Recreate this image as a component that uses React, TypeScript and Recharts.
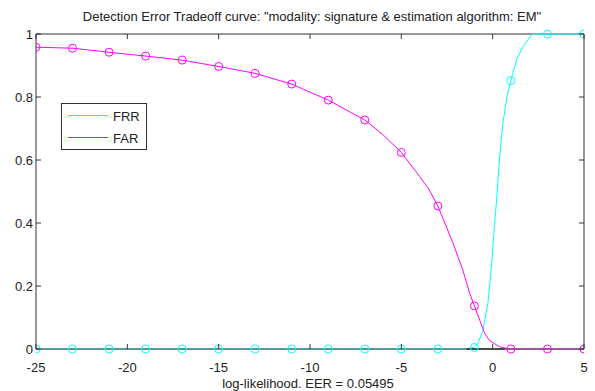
import { LineChart, Line, XAxis, YAxis, ReferenceLine } from 'recharts';

const W = 595;
const H = 391;
const PLOT_LEFT = 36;
const PLOT_RIGHT = 584;
const PLOT_TOP = 34;
const PLOT_BOTTOM = 349;
const FONT = '"Liberation Sans", Arial, sans-serif';
const AXIS_COLOR = '#333';
const FRR_COLOR = '#00ffff';
const FAR_COLOR = '#ff00ff';

const xTicks = [-25, -20, -15, -10, -5, 0, 5];
const yTicks = [0, 0.2, 0.4, 0.6, 0.8, 1];

// sampled curves (dense where they move fast)
const farX = [-25, -23, -21, -19, -17, -15, -13, -11, -9, -7, -6, -5, -4, -3.5, -3, -2.17, -1.63, -1.26, -1, -0.71, -0.44, -0.16, 0.38, 0.84, 1, 3, 5];
const farY = [0.958, 0.955, 0.942, 0.93, 0.917, 0.897, 0.875, 0.841, 0.79, 0.727, 0.68, 0.624, 0.548, 0.508, 0.454, 0.336, 0.25, 0.177, 0.137, 0.092, 0.05, 0.026, 0.007, 0, 0, 0, 0];

const frrX = [-25, -3, -1.44, -1, -0.8, -0.53, -0.26, -0.07, 0.11, 0.24, 0.38, 0.56, 0.78, 1, 1.3, 1.66, 2.12, 2.3, 3, 5];
const frrY = [0, 0, 0, 0.005, 0.018, 0.06, 0.145, 0.261, 0.4, 0.49, 0.61, 0.716, 0.8, 0.852, 0.917, 0.96, 0.997, 1, 1, 1];

// circle markers every 2 units
const markerX = [-25, -23, -21, -19, -17, -15, -13, -11, -9, -7, -5, -3, -1, 1, 3, 5];
const farMarks = [0.958, 0.955, 0.942, 0.93, 0.917, 0.897, 0.875, 0.841, 0.79, 0.727, 0.624, 0.454, 0.137, 0, 0, 0];
const frrMarks = [0, 0, 0, 0, 0, 0, 0, 0, 0, 0, 0, 0, 0.005, 0.852, 1, 1];

const eerX = [-1.44, 0.66];
const eerY = [0, 0];

const toPts = (xs: number[], ys: number[]) => xs.map((x, i) => ({ x, y: ys[i] }));

const farLine = toPts(farX, farY);
const frrLine = toPts(frrX, frrY);
const farDots = toPts(markerX, farMarks);
const frrDots = toPts(markerX, frrMarks);
const eerLine = toPts(eerX, eerY);

const XTick = (props: any) => {
  const { x, payload } = props;
  return (
    <g>
      <line x1={x} y1={PLOT_BOTTOM} x2={x} y2={PLOT_BOTTOM - 5} stroke={AXIS_COLOR} />
      <line x1={x} y1={PLOT_TOP} x2={x} y2={PLOT_TOP + 5} stroke={AXIS_COLOR} />
      <text x={x} y={PLOT_BOTTOM + 23} textAnchor="middle" fontSize={13} fontFamily={FONT} fill="#222">
        {payload.value}
      </text>
    </g>
  );
};

const YTick = (props: any) => {
  const { y, payload } = props;
  return (
    <g>
      <line x1={PLOT_LEFT} y1={y} x2={PLOT_LEFT + 5} y2={y} stroke={AXIS_COLOR} />
      <line x1={PLOT_RIGHT} y1={y} x2={PLOT_RIGHT - 5} y2={y} stroke={AXIS_COLOR} />
      <text x={PLOT_LEFT - 3} y={y + 5} textAnchor="end" fontSize={13} fontFamily={FONT} fill="#222">
        {payload.value}
      </text>
    </g>
  );
};

export default function App() {
  return (
    <div style={{ position: 'relative', width: W, height: H, background: '#fff' }}>
      <style>{'body{margin:0;background:#fff}'}</style>
      <LineChart
        width={W}
        height={H}
        margin={{ top: PLOT_TOP, right: W - PLOT_RIGHT, bottom: 0, left: 0 }}
      >
        <XAxis
          type="number"
          dataKey="x"
          domain={[-25, 5]}
          ticks={xTicks}
          height={H - PLOT_BOTTOM}
          tickSize={0}
          tickMargin={0}
          tickLine={false}
          axisLine={{ stroke: AXIS_COLOR }}
          tick={<XTick />}
          allowDataOverflow
        />
        <YAxis
          type="number"
          dataKey="y"
          domain={[0, 1]}
          ticks={yTicks}
          width={PLOT_LEFT}
          tickSize={0}
          tickMargin={0}
          tickLine={false}
          axisLine={{ stroke: AXIS_COLOR }}
          tick={<YTick />}
        />
        <ReferenceLine y={1} stroke={AXIS_COLOR} strokeOpacity={1} />
        <ReferenceLine x={5} stroke={AXIS_COLOR} strokeOpacity={1} />
        <Line data={frrLine} dataKey="y" name="FRR" type="linear" stroke={FRR_COLOR} strokeWidth={1} dot={false} isAnimationActive={false} />
        <Line data={farLine} dataKey="y" name="FAR" type="linear" stroke={FAR_COLOR} strokeWidth={1} dot={false} isAnimationActive={false} />
        <Line data={eerLine} dataKey="y" name="EER" type="linear" stroke="#333" strokeWidth={1.5} dot={false} isAnimationActive={false} />
        <Line data={frrDots} dataKey="y" name="FRR marks" stroke="none" dot={{ r: 4, stroke: FRR_COLOR, strokeWidth: 1, fill: 'none' }} isAnimationActive={false} />
        <Line data={farDots} dataKey="y" name="FAR marks" stroke="none" dot={{ r: 4, stroke: FAR_COLOR, strokeWidth: 1, fill: 'none' }} isAnimationActive={false} />
      </LineChart>
      <svg width={W} height={H} style={{ position: 'absolute', left: 0, top: 0, pointerEvents: 'none' }}>
        <text x={312} y={21} textAnchor="middle" fontSize={13} fontFamily={FONT} fill="#222">
          Detection Error Tradeoff curve: "modality: signature &amp; estimation algorithm: EM"
        </text>
        <text x={308} y={388} textAnchor="middle" fontSize={13} fontFamily={FONT} fill="#222">
          log-likelihood. EER = 0.05495
        </text>
        <g transform="translate(61,103)">
          <rect x={0.5} y={0.5} width={85} height={46} fill="#fff" stroke="#333" />
          <line x1={7} y1={12.5} x2={47} y2={12.5} stroke={FRR_COLOR} />
          <text x={52} y={18} fontSize={13} fontFamily={FONT} fill="#222">FRR</text>
          <line x1={7} y1={34.5} x2={47} y2={34.5} stroke={FAR_COLOR} />
          <text x={52} y={40} fontSize={13} fontFamily={FONT} fill="#222">FAR</text>
        </g>
      </svg>
    </div>
  );
}
